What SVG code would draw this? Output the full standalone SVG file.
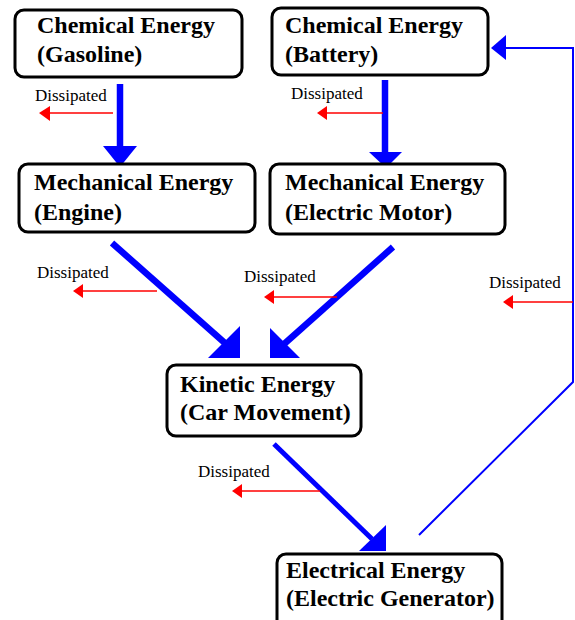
<svg xmlns="http://www.w3.org/2000/svg" width="575" height="620" viewBox="0 0 575 620">
<style>
.box{fill:#fff;stroke:#000;stroke-width:3}
.t{font-family:"Liberation Serif","Times New Roman",serif;font-weight:bold;font-size:24px;fill:#000}
.d{font-family:"Liberation Serif","Times New Roman",serif;font-size:17px;fill:#000}
.red{stroke:#f00;stroke-width:1.5;fill:none}
.rh{fill:#f00}
.blue{stroke:#00f;fill:none}
.bh{fill:#00f}
</style>
<rect width="575" height="620" fill="#fff"/>
<g id="connectors">
  <!-- thick blue arrows -->
  <line class="blue" x1="120" y1="84" x2="120" y2="150" stroke-width="6.5"/>
  <polygon class="bh" points="103,146 137,146 120,167"/>
  <line class="blue" x1="385" y1="80" x2="385" y2="155" stroke-width="6.5"/>
  <polygon class="bh" points="369,152 402,152 386,168"/>
  <line class="blue" x1="112" y1="243" x2="226" y2="344" stroke-width="6.5"/>
  <polygon class="bh" points="208,358 240,326 240,358"/>
  <line class="blue" x1="393" y1="247" x2="283" y2="345" stroke-width="6.5"/>
  <polygon class="bh" points="270,328 300,358 270,358"/>
  <line class="blue" x1="274" y1="444" x2="372" y2="539" stroke-width="5"/>
  <polygon class="bh" points="359,551 386,525 386,551"/>
  <!-- thin return line -->
  <polyline class="blue" points="419,535 573,382 573,48 504,48" stroke-width="2"/>
  <polygon class="bh" points="491,48 506,35 506,60"/>
  <!-- red dissipated arrows -->
  <line class="red" x1="113" y1="113" x2="48" y2="113"/>
  <polygon class="rh" points="39,113 50,106 50,121"/>
  <line class="red" x1="383" y1="113" x2="326" y2="113"/>
  <polygon class="rh" points="317,113 327,106 327,120"/>
  <line class="red" x1="157" y1="291" x2="82" y2="291"/>
  <polygon class="rh" points="73,291 83,284 83,298"/>
  <line class="red" x1="337" y1="297" x2="273" y2="297"/>
  <polygon class="rh" points="264,297 274,290 274,304"/>
  <line class="red" x1="573" y1="302" x2="512" y2="302"/>
  <polygon class="rh" points="503,302 513,295 513,309"/>
  <line class="red" x1="320" y1="491" x2="241" y2="491"/>
  <polygon class="rh" points="232,491 242,484 242,498"/>
</g>
<g id="labels">
  <text class="d" x="35" y="101">Dissipated</text>
  <text class="d" x="291" y="99">Dissipated</text>
  <text class="d" x="37" y="278">Dissipated</text>
  <text class="d" x="244" y="282">Dissipated</text>
  <text class="d" x="489" y="288">Dissipated</text>
  <text class="d" x="198" y="477">Dissipated</text>
</g>
<g id="chem-gasoline">
  <rect class="box" x="15" y="10" width="227" height="67" rx="9"/>
  <text class="t" x="37" y="33">Chemical Energy</text>
  <text class="t" x="37" y="62">(Gasoline)</text>
</g>
<g id="chem-battery">
  <rect class="box" x="272" y="8" width="216" height="67" rx="9"/>
  <text class="t" x="285" y="33">Chemical Energy</text>
  <text class="t" x="285" y="62">(Battery)</text>
</g>
<g id="mech-engine">
  <rect class="box" x="19" y="164" width="236" height="68" rx="9"/>
  <text class="t" x="34" y="190">Mechanical Energy</text>
  <text class="t" x="34" y="220">(Engine)</text>
</g>
<g id="mech-motor">
  <rect class="box" x="270" y="164" width="235" height="70" rx="9"/>
  <text class="t" x="285" y="190">Mechanical Energy</text>
  <text class="t" x="285" y="220">(Electric Motor)</text>
</g>
<g id="kinetic">
  <rect class="box" x="167" y="365" width="194" height="71" rx="9"/>
  <text class="t" x="180" y="392">Kinetic Energy</text>
  <text class="t" x="180" y="420">(Car Movement)</text>
</g>
<g id="electrical">
  <rect class="box" x="277" y="554" width="225" height="80" rx="9"/>
  <text class="t" x="286" y="578">Electrical Energy</text>
  <text class="t" x="286" y="606">(Electric Generator)</text>
</g>
</svg>
